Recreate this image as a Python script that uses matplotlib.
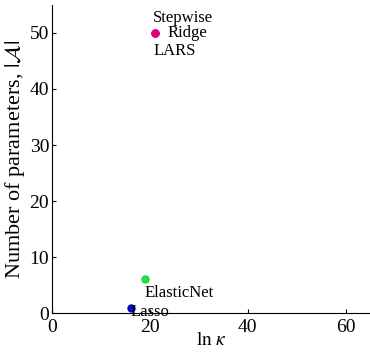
import matplotlib
matplotlib.use('Agg')
import matplotlib.pyplot as plt

plt.rcParams['font.family'] = ['Liberation Serif', 'DejaVu Serif']
plt.rcParams['mathtext.fontset'] = 'stix'

methods = ['Stepwise', 'Ridge', 'LARS', 'ElasticNet', 'Lasso']
ln_kappa = [21.0, 21.0, 21.0, 19.0, 16.1]
n_params = [50, 50, 50, 6, 1]
colors = ['#e8004a', '#e8004a', '#e8004a', '#22e050', '#0010e0']
edges = ['#d000b0', '#d000b0', '#d000b0', '#20d040', '#0000a0']

fig = plt.figure(figsize=(3.7, 3.53), dpi=100)
ax = fig.add_axes((0.1405, 0.113, 0.8595, 0.873))

for m, x, y, c, e in zip(methods, ln_kappa, n_params, colors, edges):
    ax.plot(x, y, 'o', color=c, markeredgecolor=e, markersize=5, zorder=3)

# label offsets in points
offsets = {'Stepwise': (-1, 11), 'Ridge': (9, 0), 'LARS': (-1, -13),
           'ElasticNet': (0, -10), 'Lasso': (0, -3)}
for m, x, y in zip(methods, ln_kappa, n_params):
    dx, dy = offsets[m]
    ax.annotate(m, (x, y), xytext=(dx, dy), textcoords='offset points',
                fontsize=12, va='center', ha='left')

ax.set_xlim(0, 65)
ax.set_ylim(0, 55)
ax.set_xticks([0, 20, 40, 60])
ax.set_yticks([0, 10, 20, 30, 40, 50])
ax.tick_params(direction='in', labelsize=14, length=3, pad=2)
ax.tick_params(axis='x', pad=4)
ax.spines['top'].set_visible(False)
ax.spines['right'].set_visible(False)
ax.set_xlabel(r'$\ln\,\kappa$', fontsize=14, labelpad=-3)
ax.set_ylabel(r'Number of parameters, $|\mathcal{A}|$', fontsize=16, labelpad=2)

fig.savefig('out.png', dpi=100)
